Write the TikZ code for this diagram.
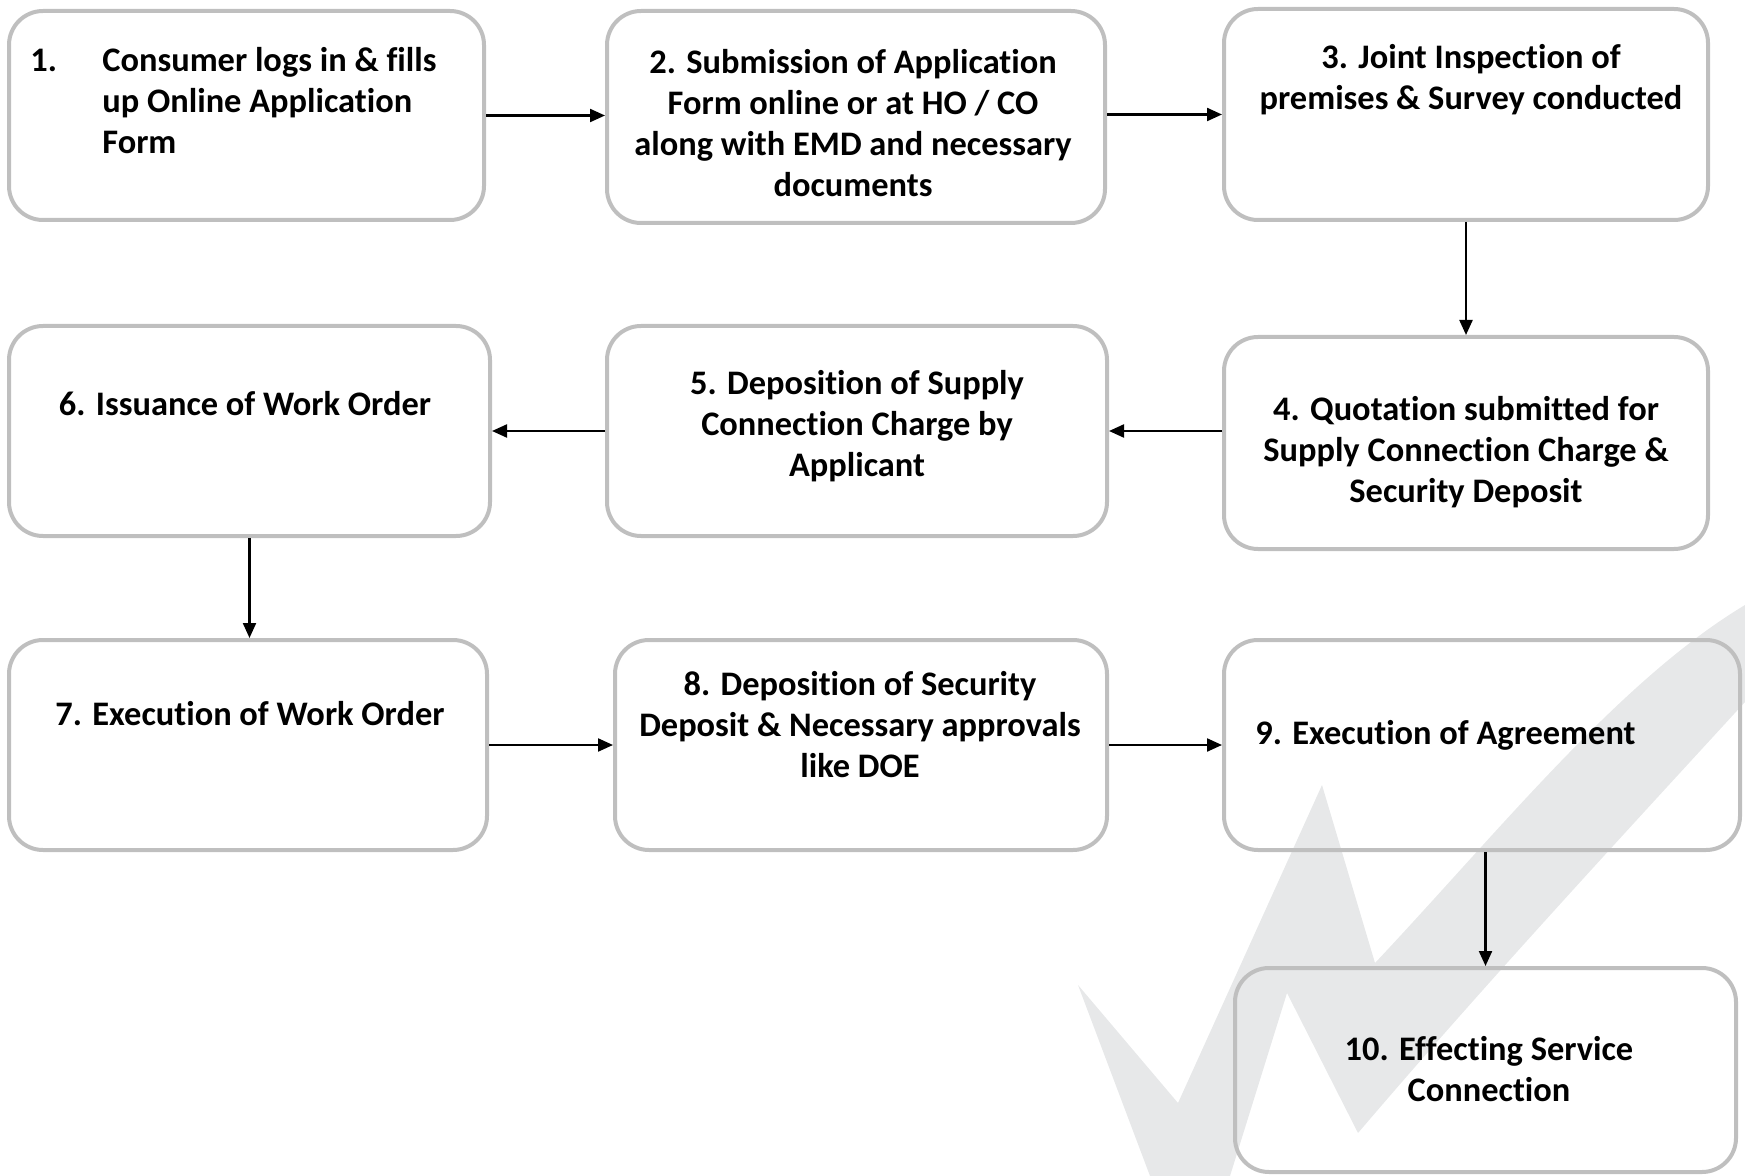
\documentclass[tikz,border=0pt]{standalone}
\usepackage{fontspec}
\setmainfont[Ligatures=NoCommon]{Carlito}
\usetikzlibrary{arrows.meta}
\definecolor{boxgray}{RGB}{191,191,191}
\definecolor{markgray}{RGB}{231,232,233}

\begin{document}
\begin{tikzpicture}[x=0.5pt,y=0.5pt]
		\tikzstyle{every node}+=[inner sep=0pt]
		\tikzstyle{box}=[draw=boxgray, line width=2pt, rounded corners=17pt]
		\tikzstyle{txt}=[font=\fontsize{17.2}{20.6}\selectfont\bfseries, align=center]
		\tikzstyle{arr}=[black, line width=1.1pt, -{Triangle[length=7.5pt,width=6.5pt]}]
		\useasboundingbox (0,0) rectangle (1745,-1176);
		% watermark tick behind the boxes
		\fill [markgray] (1150,-1176) -- (1078,-985) -- (1178,-1103) -- (1322,-785) -- (1375,-963)
			.. controls (1500,-830) and (1620,-680) .. (1745,-605) -- (1745,-702)
			.. controls (1600,-860) and (1480,-990) .. (1358,-1133) -- (1287,-993) -- (1230,-1176) -- cycle;
		% boxes
		\node [box, minimum width=237.5pt, minimum height=104.5pt] (b1) at (246.5,-115.5) {};
		\node [box, minimum width=249pt, minimum height=106pt] (b2) at (856,-117) {};
		\node [box, minimum width=242pt, minimum height=105.5pt] (b3) at (1466,-114.5) {};
		\node [box, minimum width=242pt, minimum height=106pt] (b4) at (1466,-443) {};
		\node [box, minimum width=250pt, minimum height=105pt] (b5) at (857,-431) {};
		\node [box, minimum width=240.5pt, minimum height=105pt] (b6) at (249.5,-431) {};
		\node [box, minimum width=239pt, minimum height=105pt] (b7) at (248,-745) {};
		\node [box, minimum width=246pt, minimum height=105pt] (b8) at (861,-745) {};
		\node [box, minimum width=258pt, minimum height=105pt] (b9) at (1482,-745) {};
		\node [box, minimum width=250.5pt, minimum height=102pt] (b10) at (1485.5,-1070) {};
		% texts
		\node [txt, anchor=west] (t1) at (30,-104.5) {\begin{tabular}{@{}p{36pt}@{}l@{}}1. & Consumer logs in \& fills\\ & up Online Application\\ & Form\end{tabular}};
		\node [txt] (t2) at (853,-123) {2. Submission of Application\\Form online or at HO / CO\\along with EMD and necessary\\documents};
		\node [txt] (t3) at (1471,-80) {3. Joint Inspection of\\premises \& Survey conducted};
		\node [txt] (t4) at (1466,-452) {4. Quotation submitted for\\Supply Connection Charge \&\\Security Deposit};
		\node [txt] (t5) at (857,-426) {5. Deposition of Supply\\Connection Charge by\\Applicant};
		\node [txt] (t6) at (245,-404) {6. Issuance of Work Order};
		\node [txt] (t7) at (250,-714) {7. Execution of Work Order};
		\node [txt] (t8) at (860,-724.5) {8. Deposition of Security\\Deposit \& Necessary approvals\\like DOE};
		\node [txt, anchor=west] (t9) at (1255,-735.5) {9. Execution of Agreement};
		\node [txt] (t10) at (1489,-1069) {10. Effecting Service\\Connection};
		% arrows
		\draw [arr] (b1.east) -- (b1.east -| b2.west);
		\draw [arr] (b3.west -| b2.east) -- (b3.west);
		\draw [arr] (b3.south) -- (b4.north);
		\draw [arr] (b5.east -| b4.west) -- (b5.east);
		\draw [arr] (b5.west) -- (b5.west -| b6.east);
		\draw [arr] (b6.south) -- (b6.south |- b7.north);
		\draw [arr] (b7.east) -- (b7.east -| b8.west);
		\draw [arr] (b8.east) -- (b8.east -| b9.west);
		\draw [arr] (b10.north |- b9.south) -- (b10.north);
\end{tikzpicture}
\end{document}
